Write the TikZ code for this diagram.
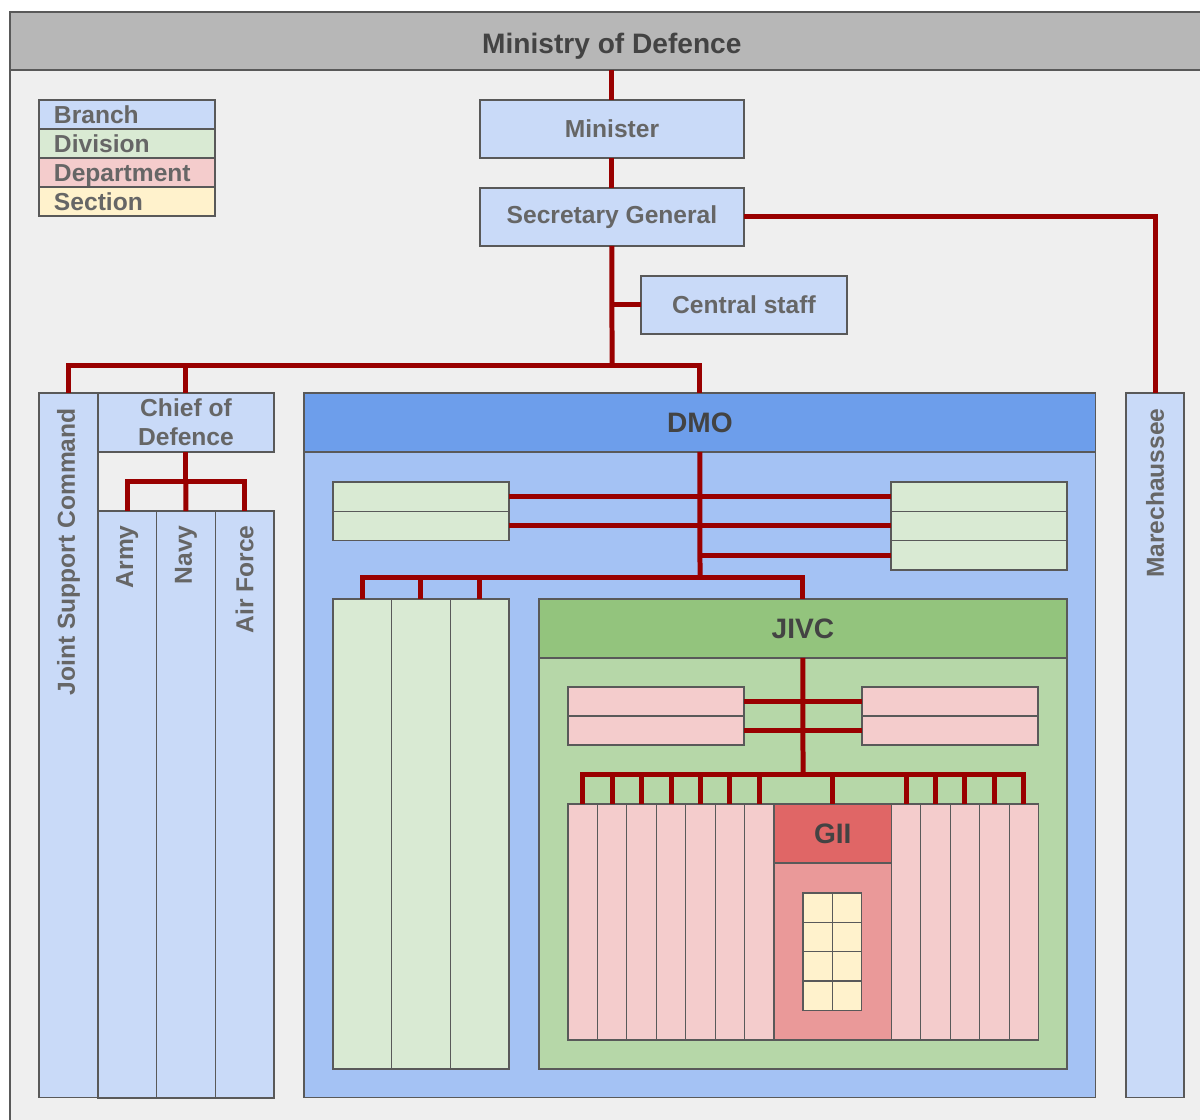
\documentclass[tikz,border=0pt]{standalone}
\usepackage{fontspec}
\setmainfont{Liberation Sans}
\usetikzlibrary{positioning}

\definecolor{edgegray}{HTML}{595959}
\definecolor{textgray}{HTML}{666666}
\definecolor{titlegray}{HTML}{434343}
\definecolor{headgray}{HTML}{B7B7B7}
\definecolor{framegray}{HTML}{EFEFEF}
\definecolor{branchblue}{HTML}{C9DAF8}
\definecolor{divgreen}{HTML}{D9EAD3}
\definecolor{deptpink}{HTML}{F4CCCC}
\definecolor{sectyellow}{HTML}{FFF2CC}
\definecolor{dmohead}{HTML}{6D9EEB}
\definecolor{dmobody}{HTML}{A4C2F4}
\definecolor{jivchead}{HTML}{93C47D}
\definecolor{jivcbody}{HTML}{B6D7A8}
\definecolor{giihead}{HTML}{E06666}
\definecolor{giibody}{HTML}{EA9999}
\definecolor{linkred}{HTML}{990000}

\begin{document}
\begin{tikzpicture}[
x=0.02cm, y=-0.02cm,
font=\fontsize{14}{16.5}\selectfont\bfseries,
box/.style={
draw=edgegray,
line width=0.7pt,
inner sep=0pt,
outer sep=0pt,
anchor=north west,
text=textgray,
},
branch/.style={box, fill=branchblue},
division/.style={box, fill=divgreen},
department/.style={box, fill=deptpink},
section/.style={box, fill=sectyellow, minimum width=0.588cm, minimum height=0.586cm},
legend/.style={minimum height=0.58cm, text width=2.92cm, inner xsep=0.3cm, align=left,
text height=10pt, text depth=0pt},
headtext/.style={font=\fontsize{16}{19}\selectfont\bfseries, text=titlegray},
vlabel/.style={rotate=90, anchor=east, inner sep=0pt, text=textgray},
link/.style={draw=linkred, line width=0.1cm},
]

\useasboundingbox (0,0) rectangle (1200,1119);
\clip (0,0) rectangle (1200,1119);

% ministry frame
\node[box, fill=framegray, minimum width=24.08cm, minimum height=21.2cm] (frame) at (10,70) {};
\node[box, fill=headgray, headtext, minimum width=24.08cm, minimum height=1.16cm,
text height=14.4pt, text depth=0pt] (mod) at (10,12)
{Ministry of Defence};

% legend
\node[branch, legend] (legbranch) at (39,100) {Branch};
\node[division, legend, below=0pt of legbranch] (legdiv) {Division};
\node[department, legend, below=0pt of legdiv] (legdept) {Department};
\node[box, fill=sectyellow, legend, below=0pt of legdept] (legsect) {Section};

% top of the tree
\node[branch, minimum width=5.28cm, minimum height=1.16cm] (minister) at (480,100) {Minister};
\node[branch, minimum width=5.28cm, minimum height=1.16cm] (sg) at (480,188) {Secretary General};
\node[branch, minimum width=4.12cm, minimum height=1.16cm] (cs) at (641,276) {Central staff};

% branches
\node[branch, minimum width=1.18cm, minimum height=14.1cm] (jsc) at (39,393) {};
\node[vlabel] (jsclabel) at ([yshift=-0.3cm]jsc.north) {Joint Support Command};
\node[branch, minimum width=3.52cm, minimum height=1.18cm, align=center] (cod) at (98,393)
{Chief of\\Defence};
\foreach \name/\txt [count=\i] in {army/Army, navy/Navy, airforce/Air Force}
{
\node[branch, minimum width=1.173cm, minimum height=11.74cm] (\name) at ({98+58.67*(\i-1)},511) {};
\node[vlabel] (\name label) at ([yshift=-0.28cm]\name.north) {\txt};
}
\node[branch, minimum width=1.16cm, minimum height=14.1cm] (mar) at (1126,393) {};
\node[vlabel] (marlabel) at ([yshift=-0.3cm]mar.north) {Marechaussee};

% DMO
\node[box, fill=dmohead, headtext, minimum width=15.84cm, minimum height=1.18cm] (dmo) at (304,393) {DMO};
\node[box, fill=dmobody, minimum width=15.84cm, minimum height=12.92cm, below=0pt of dmo] (dmobody) {};

\node[division, minimum width=3.52cm, minimum height=0.586cm] (lg1) at (333,482) {};
\node[division, minimum width=3.52cm, minimum height=0.586cm, below=0pt of lg1] (lg2) {};
\node[division, minimum width=3.52cm, minimum height=0.586cm] (rg1) at (891,482) {};
\node[division, minimum width=3.52cm, minimum height=0.586cm, below=0pt of rg1] (rg2) {};
\node[division, minimum width=3.52cm, minimum height=0.586cm, below=0pt of rg2] (rg3) {};
\foreach \i in {1,2,3}
\node[division, minimum width=1.173cm, minimum height=9.4cm] (gc\i) at ({333+58.67*(\i-1)},599) {};

% JIVC
\node[box, fill=jivchead, headtext, minimum width=10.56cm, minimum height=1.18cm] (jivc) at (539,599) {JIVC};
\node[box, fill=jivcbody, minimum width=10.56cm, minimum height=8.22cm, below=0pt of jivc] (jivcbody) {};

\node[department, minimum width=3.52cm, minimum height=0.58cm] (lp1) at (568,687) {};
\node[department, minimum width=3.52cm, minimum height=0.58cm, below=0pt of lp1] (lp2) {};
\node[department, minimum width=3.52cm, minimum height=0.58cm] (rp1) at (862,687) {};
\node[department, minimum width=3.52cm, minimum height=0.58cm, below=0pt of rp1] (rp2) {};

\foreach \i in {1,...,7}
\node[department, minimum width=0.5886cm, minimum height=4.72cm] (col\i) at ({568+29.43*(\i-1)},804) {};
\foreach \i in {8,...,12}
\node[department, minimum width=0.5886cm, minimum height=4.72cm] (col\i) at ({891.4+29.43*(\i-8)},804) {};

% GII
\node[box, fill=giihead, headtext, minimum width=2.35cm, minimum height=1.18cm] (gii) at (774,804) {GII};
\node[box, fill=giibody, minimum width=2.35cm, minimum height=3.54cm, below=0pt of gii] (giibody) {};
\foreach \r in {0,...,3}
\foreach \c in {0,1}
\node[section] (sec\r\c) at ({803+29.4*\c},{893+29.3*\r}) {};

% connectors
\coordinate (hub) at (612,365);
\coordinate (codhub) at ([yshift=-0.6cm]cod.south);
\coordinate (dmohub) at (700,577);
\coordinate (jivchub) at (803,774);

\draw[link] (minister.north |- mod.south) -- (minister.north);
\draw[link] (minister.south) -- (sg.north);
\draw[link] (sg.south) -- (hub);
\draw[link] (cs.west) -- (cs.west -| sg.south);
\draw[link] (sg.east) -| (mar.north);
\draw[link] (jsc.north) |- (hub) -| (dmo.north);
\draw[link] (hub -| cod.north) -- (cod.north);

\draw[link] (cod.south) -- (codhub);
\draw[link] (army.north) |- (codhub) -| (airforce.north);
\draw[link] (codhub) -- (navy.north);

\draw[link] (dmo.south) -- (dmohub);
\draw[link] (lg1.east) -- (rg1.west);
\draw[link] (lg2.east) -- (rg2.west);
\draw[link] (rg3.west) -- (rg3.west -| dmohub);
\draw[link] (gc1.north) |- (dmohub) -| (jivc.north);
\draw[link] (gc2.north |- dmohub) -- (gc2.north);
\draw[link] (gc3.north |- dmohub) -- (gc3.north);

\draw[link] (jivc.south) -- (jivchub);
\draw[link] (lp1.east) -- (rp1.west);
\draw[link] (lp2.east) -- (rp2.west);
\draw[link] (col1.north) |- (jivchub) -| (col12.north);
\foreach \i in {2,...,11}
\draw[link] (col\i.north |- jivchub) -- (col\i.north);
\draw[link] (gii.north |- jivchub) -- (gii.north);

\end{tikzpicture}
\end{document}
